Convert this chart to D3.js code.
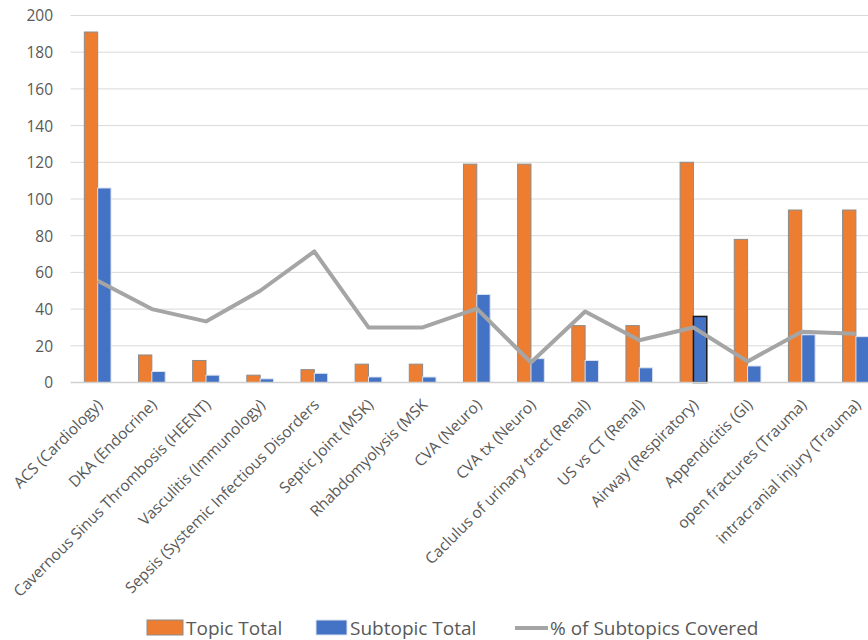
<!DOCTYPE html>
<html><head><meta charset="utf-8">
<script src="https://cdn.jsdelivr.net/npm/d3@7"></script>
<style>
body{margin:0;background:#fff;}
text{font-family:"Open Sans","Noto Sans",sans-serif;fill:#595959;}
</style></head>
<body><svg id="chart" width="868" height="640"></svg>
<script>
const categories = ["ACS (Cardiology)","DKA (Endocrine)","Cavernous Sinus Thrombosis (HEENT)","Vasculitis (Immunology)","Sepsis (Systemic Infectious Disorders","Septic Joint (MSK)","Rhabdomyolysis (MSK","CVA (Neuro)","CVA tx (Neuro)","Caclulus of urinary tract (Renal)","US vs CT (Renal)","Airway (Respiratory)","Appendicitis (GI)","open fractures (Trauma)","intracranial injury (Trauma)"];
const topicTotal = [191,15,12,4,7,10,10,119,119,31,31,120,78,94,94];
const subtopicTotal = [106,6,4,2,5,3,3,48,13,12,8,36,9,26,25];
const pctCovered = [55.5,40,33.3,50,71.4,30,30,40.3,10.9,38.7,23,30,11.5,27.7,26.6];
const yTicks = [0,20,40,60,80,100,120,140,160,180,200];
const seriesNames = ["Topic Total","Subtopic Total","% of Subtopics Covered"];

const svg = d3.select("#chart");
const x = d3.scaleBand().domain(categories).range([70.6,883]).paddingInner(0.507).paddingOuter(0.2535);
const y = d3.scaleLinear().domain([0,200]).range([382.5,15.5]);
const x1 = d3.scaleBand().domain(["t","s"]).range([0,x.bandwidth()]);

// gridlines
svg.append("g").selectAll("line").data(yTicks.filter(d=>d>0)).join("line")
  .attr("x1",70.6).attr("x2",868).attr("y1",d=>y(d)).attr("y2",d=>y(d))
  .attr("stroke","#d9d9d9").attr("stroke-width",1);

// y axis labels
const yAxis = d3.axisLeft(y).tickValues(yTicks).tickSize(0).tickPadding(0);
const ya = svg.append("g").attr("transform","translate(53,0)").call(yAxis);
ya.select(".domain").remove();
ya.selectAll("text").style("font-size","15.5px").attr("fill","#595959").attr("dy","0.35em");

// bars
const g = svg.append("g");
g.selectAll("rect.t").data(categories).join("rect").attr("class","t")
  .attr("x",d=>x(d)+x1("t")).attr("width",x1.bandwidth())
  .attr("y",(d,i)=>y(topicTotal[i])).attr("height",(d,i)=>y(0)-y(topicTotal[i]))
  .attr("fill","#ED7D31").attr("stroke","#8c8c8c").attr("stroke-width",1);
g.selectAll("rect.s").data(categories).join("rect").attr("class","s")
  .attr("x",d=>x(d)+x1("s")).attr("width",x1.bandwidth())
  .attr("y",(d,i)=>y(subtopicTotal[i])).attr("height",(d,i)=>y(0)-y(subtopicTotal[i]))
  .attr("fill","#4472C4")
  .attr("stroke",(d,i)=>i===11?"#1a1a1a":"#dde3ee").attr("stroke-width",(d,i)=>i===11?1.5:1);

// baseline
svg.append("line").attr("x1",70.6).attr("x2",868).attr("y1",y(0)).attr("y2",y(0))
  .attr("stroke","#d0d0d0").attr("stroke-width",1.5);

// line
const line = d3.line().x((d,i)=>x(categories[i])+x.bandwidth()/2).y(d=>y(d));
svg.append("path").datum(pctCovered).attr("d",line).attr("fill","none")
  .attr("stroke","#A5A5A5").attr("stroke-width",4).attr("stroke-linejoin","round");

// x labels
const xl = svg.append("g");
xl.selectAll("text").data(categories).join("text")
  .attr("transform",d=>`translate(${x(d)+x.bandwidth()/2+2},${402}) rotate(-45)`)
  .attr("text-anchor","end").attr("dy","0.35em").style("font-size","15.5px").text(d=>d);

// legend
const lg = svg.append("g").style("font-size","19px");
lg.append("rect").attr("x",147).attr("y",620).attr("width",36).attr("height",15).attr("fill","#ED7D31").attr("stroke","#8c8c8c");
lg.append("text").attr("x",186).attr("y",628).attr("dy","0.35em").text(seriesNames[0]);
lg.append("rect").attr("x",316).attr("y",620).attr("width",31).attr("height",15).attr("fill","#4472C4").attr("stroke","#dde3ee");
lg.append("text").attr("x",350).attr("y",628).attr("dy","0.35em").text(seriesNames[1]);
lg.append("line").attr("x1",515).attr("x2",548).attr("y1",628).attr("y2",628).attr("stroke","#A5A5A5").attr("stroke-width",4);
lg.append("text").attr("x",550).attr("y",628).attr("dy","0.35em").text(seriesNames[2]);
</script></body></html>
